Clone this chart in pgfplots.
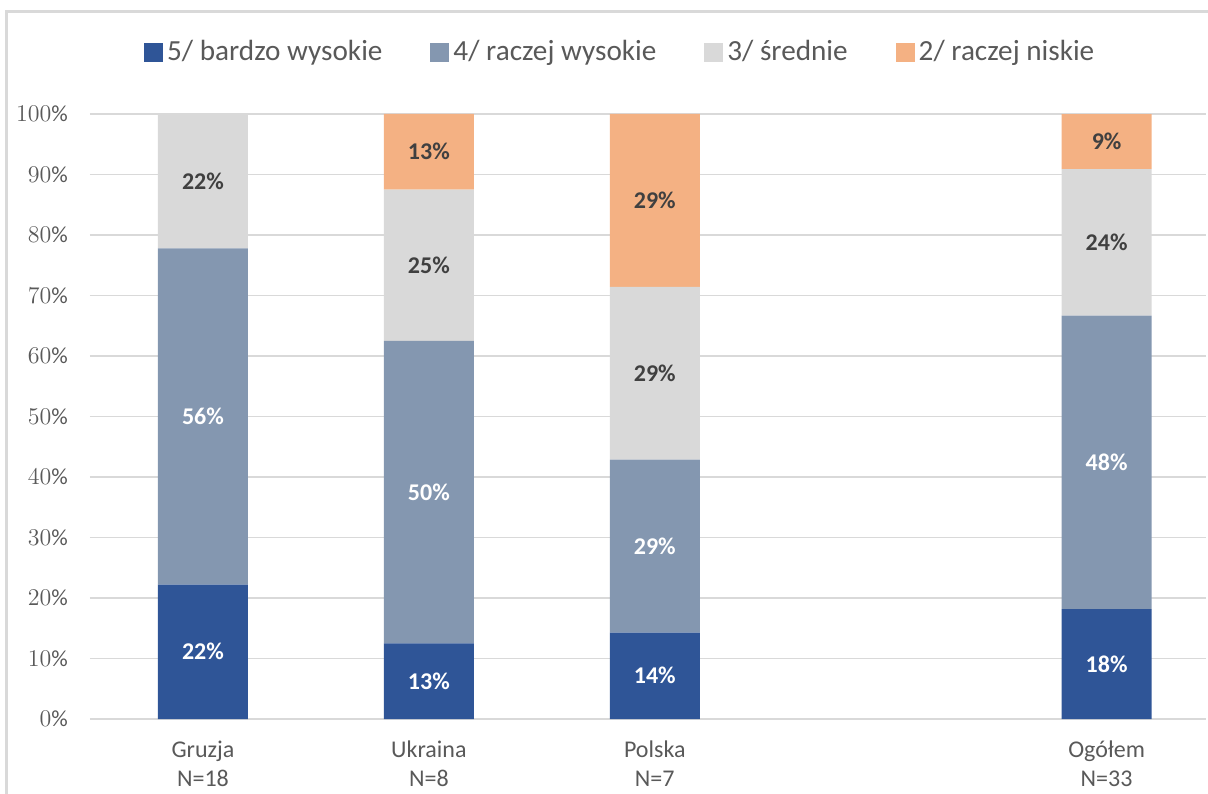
\documentclass[border=0pt]{standalone}
\usepackage{pgfplots}
\pgfplotsset{compat=1.18}
\usepackage{fontspec}
\setmainfont{Carlito}
\definecolor{c5}{HTML}{2F5597}
\definecolor{c4}{HTML}{8497B0}
\definecolor{c3}{HTML}{D9D9D9}
\definecolor{c2}{HTML}{F4B183}
\definecolor{gridc}{HTML}{D9D9D9}
\definecolor{txt}{HTML}{595959}
\definecolor{lbl}{HTML}{404040}
\begin{document}
\begin{tikzpicture}
\useasboundingbox (-45pt,-37pt) rectangle (559pt,359.5pt);
\draw[gridc, line width=1.5pt] (600pt,353.5pt) -- (-41.5pt,353.5pt) -- (-41.5pt,-60pt);
\begin{axis}[
  scale only axis,
  width=558pt, height=302.5pt,
  ybar stacked, bar width=45pt,
  xmin=-0.5, xmax=4.44, ymin=0, ymax=100,
  xtick={0,1,2,4},
  xticklabels={{Gruzja\\N=18},{Ukraina\\N=8},{Polska\\N=7},{Ogółem\\N=33}},
  xticklabel style={align=center, font=\fontsize{12}{14.5}\selectfont, text=txt, yshift=-7.5pt},
  ytick={0,10,...,100},
  yticklabel={$\pgfmathprintnumber{\tick}\%$},
  yticklabel style={font=\fontsize{11.5}{13}\selectfont, text=txt, xshift=-7.5pt},
  major tick length=0pt,
  ymajorgrids, major grid style={gridc, line width=0.75pt},
  axis lines*=left,
  y axis line style={draw=none},
  x axis line style={draw=gridc, line width=1pt, -},
  legend columns=4,
  legend style={at={(0.476,1.1025)}, anchor=center, draw=none, fill=none,
    font=\fontsize{14.6}{18}\selectfont, text=txt,
    /tikz/every even column/.append style={column sep=22pt}},
  legend image code/.code={\fill[#1] (2pt,-5pt) rectangle (11.5pt,4.5pt);},
  nodes near coords={\pgfmathprintnumber[fixed,precision=0,assume math mode=true]{\pgfplotspointmeta}\%},
  every node near coord/.append style={anchor=center, font=\fontsize{12}{14}\selectfont\bfseries},
]
\addplot[fill=c5, draw=none, nodes near coords style={text=white}] coordinates {(0,22.22) (1,12.5) (2,14.29) (4,18.18)};
\addlegendentry{5/ bardzo wysokie}
\addplot[fill=c4, draw=none, nodes near coords style={text=white}] coordinates {(0,55.56) (1,50) (2,28.57) (4,48.48)};
\addlegendentry{4/ raczej wysokie}
\addplot[fill=c3, draw=none, nodes near coords style={text=lbl}] coordinates {(0,22.22) (1,25) (2,28.57) (4,24.24)};
\addlegendentry{3/ średnie}
\addplot[fill=c2, draw=none, point meta=explicit symbolic, nodes near coords={\pgfplotspointmeta}, nodes near coords style={text=lbl}] coordinates {(0,0) [] (1,12.5) [13\%] (2,28.57) [29\%] (4,9.09) [9\%]};
\addlegendentry{2/ raczej niskie}
\end{axis}
\end{tikzpicture}
\end{document}
